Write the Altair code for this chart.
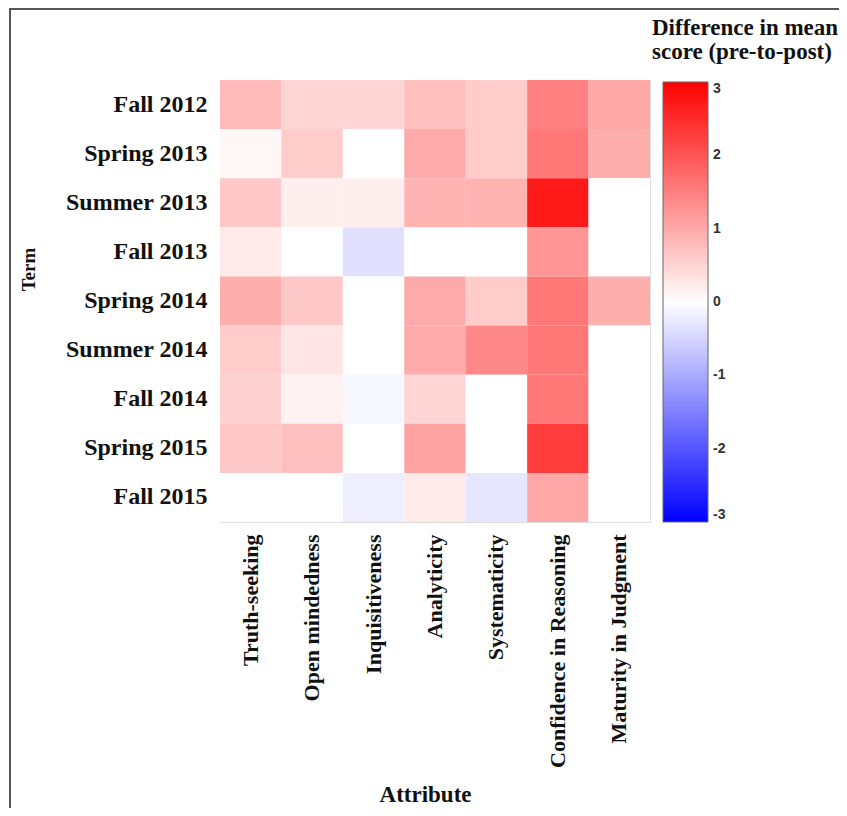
import altair as alt
import pandas as pd

terms = ["Fall 2012", "Spring 2013", "Summer 2013", "Fall 2013", "Spring 2014",
         "Summer 2014", "Fall 2014", "Spring 2015", "Fall 2015"]
attributes = ["Truth-seeking", "Open mindedness", "Inquisitiveness", "Analyticity",
              "Systematicity", "Confidence in Reasoning", "Maturity in Judgment"]

# rows = terms, columns = attributes
fall_2012   = [0.80, 0.50, 0.50, 0.75, 0.60, 1.50, 1.05]
spring_2013 = [0.10, 0.60, 0.00, 1.00, 0.60, 1.60, 0.95]
summer_2013 = [0.65, 0.20, 0.20, 0.90, 0.90, 2.70, 0.00]
fall_2013   = [0.25, 0.00, -0.35, 0.00, 0.00, 1.25, 0.00]
spring_2014 = [0.95, 0.65, 0.00, 1.00, 0.60, 1.60, 0.95]
summer_2014 = [0.60, 0.30, 0.00, 1.00, 1.40, 1.60, 0.00]
fall_2014   = [0.55, 0.15, -0.10, 0.50, 0.00, 1.60, 0.00]
spring_2015 = [0.65, 0.75, 0.00, 1.10, 0.00, 2.30, 0.00]
fall_2015   = [0.00, 0.00, -0.20, 0.25, -0.30, 1.05, 0.00]

rows = [fall_2012, spring_2013, summer_2013, fall_2013, spring_2014,
        summer_2014, fall_2014, spring_2015, fall_2015]

legend_title = ["Difference in mean", "score (pre-to-post)"]
legend_values = [-3, -2, -1, 0, 1, 2, 3]

records = []
for t, vals in zip(terms, rows):
    for a, v in zip(attributes, vals):
        records.append({"Term": t, "Attribute": a, "Diff": v})
df = pd.DataFrame(records)

serif = "Liberation Serif"
sans = "Liberation Sans"

heat = alt.Chart(df).mark_rect().encode(
    x=alt.X("Attribute:N", sort=attributes, title="Attribute",
            axis=alt.Axis(labelAngle=-90, labelFont=serif, labelFontWeight="bold",
                          labelFontSize=22, labelColor="#111", labelPadding=12,
                          ticks=False, domain=False, titleFont=serif,
                          titleFontWeight="bold", titleFontSize=23, titleColor="#111",
                          titleY=279, titleX=205, titleBaseline="alphabetic",
                          labelLimit=400)),
    y=alt.Y("Term:N", sort=terms, title="Term",
            axis=alt.Axis(labelFont=serif, labelFontWeight="bold", labelFontSize=24,
                          labelColor="#111", labelPadding=13, ticks=False, domain=False,
                          titleFont=serif, titleFontWeight="bold", titleFontSize=19,
                          titleColor="#111", titlePadding=27, titleY=189,
                          labelLimit=400)),
    color=alt.Color("Diff:Q",
                    scale=alt.Scale(domain=[-3, 0, 3], range=["#0000ff", "#ffffff", "#ff0000"],
                                    interpolate="rgb"),
                    legend=alt.Legend(title=None,
                                      orient="none", legendX=443, legendY=2,
                                      gradientLength=440, gradientThickness=45,
                                      gradientStrokeColor="#666", gradientStrokeWidth=1,
                                      labelFont=sans, labelFontWeight="bold",
                                      labelFontSize=14, labelColor="#333",
                                      labelOffset=5, values=legend_values,
                                      labelExpr="'' + datum.value",
                                      direction="vertical")),
)

title_text = alt.Chart(pd.DataFrame({"t": [legend_title]})).mark_text(
    align="left", baseline="alphabetic", font=serif, fontWeight="bold",
    fontSize=23, lineHeight=24, color="#111"
).encode(text="t", x=alt.value(432), y=alt.value(-45))

frame = alt.Chart(pd.DataFrame({"f": [0]})).mark_rect(
    fill=None, stroke="#555", strokeWidth=2
).encode(x=alt.value(-210), x2=alt.value(700), y=alt.value(-71), y2=alt.value(900))

chart = alt.layer(heat, title_text, frame).properties(
    width=430, height=442,
    autosize=alt.AutoSizeParams(type="none"),
    padding={"left": 212, "top": 72, "right": 189, "bottom": 286},
).configure_view(stroke="#888", strokeWidth=1.5).configure(background="white")

chart.save("out.html", embed_options={"renderer": "svg", "actions": False})
